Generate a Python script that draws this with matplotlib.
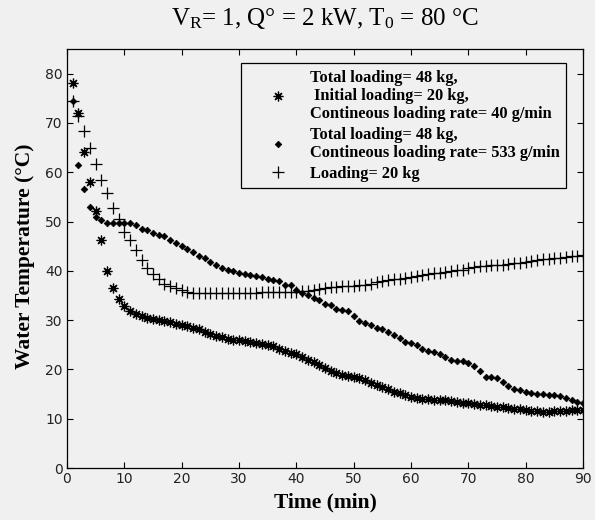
import matplotlib
matplotlib.use("Agg")
import matplotlib.pyplot as plt
from matplotlib.lines import Line2D
import numpy as np

plt.rcParams.update({
    'mathtext.fontset': 'custom',
    'mathtext.rm': 'Liberation Serif',
    'mathtext.it': 'Liberation Serif:italic',
    'mathtext.bf': 'Liberation Serif:bold',
})

BG = "#f0f0f0"

minutes = np.arange(1, 91)

# total 48 kg, initial 20 kg, continuous 40 g/min
temp_40g = [78.0, 72.0, 64.2, 58.0, 52.2, 46.2, 40.0, 36.6, 34.3, 32.8,
            31.9, 31.3, 30.8, 30.5, 30.3, 30.1, 29.9, 29.6, 29.3, 29.1,
            28.8, 28.5, 28.1, 27.6, 27.1, 26.8, 26.5, 26.2, 26.0, 25.9,
            25.7, 25.5, 25.4, 25.2, 25.0, 24.7, 24.2, 23.7, 23.3, 23.1,
            22.6, 22.0, 21.5, 20.9, 20.3, 19.7, 19.2, 18.9, 18.6, 18.4,
            18.2, 17.8, 17.3, 16.9, 16.5, 16.0, 15.5, 15.2, 14.9, 14.4,
            14.1, 13.9, 13.9, 13.8, 13.8, 13.7, 13.5, 13.4, 13.2, 13.1,
            12.9, 12.8, 12.7, 12.5, 12.4, 12.3, 12.2, 12.0, 11.9, 11.8,
            11.6, 11.5, 11.4, 11.4, 11.5, 11.6, 11.6, 11.7, 11.7, 11.7]

# total 48 kg, continuous 533 g/min
temp_533g = [74.4, 61.5, 56.6, 52.9, 50.9, 50.3, 49.7, 49.7, 49.7, 49.7,
             49.6, 49.2, 48.5, 48.2, 47.7, 47.3, 47.0, 46.3, 45.6, 45.1,
             44.5, 43.9, 43.1, 42.5, 41.8, 41.1, 40.6, 40.2, 39.9, 39.6,
             39.4, 39.1, 38.9, 38.7, 38.4, 38.2, 37.9, 37.2, 37.2, 36.2,
             35.6, 35.0, 34.4, 34.1, 33.2, 33.0, 32.2, 32.0, 31.8, 30.9,
             29.8, 29.5, 29.1, 28.3, 28.1, 27.5, 26.9, 26.3, 25.6, 25.4,
             24.9, 24.2, 23.7, 23.5, 23.2, 22.5, 21.9, 21.7, 21.7, 21.4,
             20.6, 19.6, 18.5, 18.4, 18.2, 17.5, 16.7, 16.0, 15.9, 15.4,
             15.3, 15.1, 15.0, 14.9, 14.9, 14.6, 14.1, 13.8, 13.4, 13.1]

# batch loading 20 kg
temp_20kg = [74.4, 71.5, 68.3, 65.0, 61.6, 58.5, 55.8, 52.8, 50.6, 47.8,
             46.2, 44.3, 42.2, 40.6, 39.4, 38.3, 37.4, 37.0, 36.5, 36.1,
             35.8, 35.6, 35.5, 35.4, 35.4, 35.4, 35.4, 35.5, 35.5, 35.5,
             35.6, 35.6, 35.6, 35.7, 35.7, 35.7, 35.7, 35.7, 35.8, 35.8,
             35.9, 36.0, 36.2, 36.4, 36.6, 36.7, 36.8, 36.9, 37.0, 37.0,
             37.1, 37.2, 37.4, 37.7, 37.9, 38.1, 38.3, 38.4, 38.6, 38.8,
             39.0, 39.2, 39.4, 39.5, 39.6, 39.8, 40.0, 40.1, 40.2, 40.5,
             40.7, 40.9, 41.0, 41.1, 41.1, 41.2, 41.4, 41.5, 41.6, 41.8,
             42.0, 42.2, 42.3, 42.4, 42.5, 42.6, 42.8, 43.0, 43.1, 43.2]

labels = ["Total loading= 48 kg,\n Initial loading= 20 kg,\nContineous loading rate= 40 g/min",
          "Total loading= 48 kg,\nContineous loading rate= 533 g/min",
          "Loading= 20 kg"]

yticks = [0, 10, 20, 30, 40, 50, 60, 70, 80]
xticks = [0, 10, 20, 30, 40, 50, 60, 70, 80, 90]

ASTER = (8, 2, 0)

fig = plt.figure(figsize=(5.95, 5.2), dpi=100, facecolor=BG)
ax = fig.add_axes([0.1126, 0.1, 0.8672, 0.8058], facecolor=BG)

ax.plot(minutes, temp_40g, linestyle="none", marker=ASTER, ms=7, mew=0.9, color="k")
ax.plot(minutes, temp_533g, linestyle="none", marker="D", ms=3.4, mew=0.5, color="k")
ax.plot(minutes, temp_20kg, linestyle="none", marker="+", ms=8.5, mew=0.9, color="k")

ax.set_xlim(0, 90)
ax.set_ylim(0, 85)
ax.set_xticks(xticks)
ax.set_yticks(yticks)
ax.tick_params(direction="in", length=4, width=0.8, top=True, right=True,
               labelsize=10, labelcolor="#222222", pad=3)
for sp in ax.spines.values():
    sp.set_linewidth(0.9)

serif_b = dict(family="Liberation Serif", weight="bold")
fig.text(325 / 595, 1 - 507 / 520, "Time (min)", ha="center", va="baseline",
         fontsize=15.5, **serif_b)
fig.text(25 / 595, 1 - 256 / 520, "Water Temperature (°C)", ha="center", va="center",
         rotation=90, fontsize=15.5, **serif_b)
fig.text(325 / 595, 1 - 25 / 520,
         r"V$_\mathrm{R}$= 1, Q° = 2 kW, T$_\mathrm{0}$ = 80 °C",
         ha="center", va="baseline", fontsize=18, family="Liberation Serif")

handles = [Line2D([], [], linestyle="none", marker=ASTER, ms=7, mew=0.9, color="k"),
           Line2D([], [], linestyle="none", marker="D", ms=3.4, mew=0.5, color="k"),
           Line2D([], [], linestyle="none", marker="+", ms=8.5, mew=0.9, color="k")]
leg = ax.legend(handles, labels, loc="upper right",
                bbox_to_anchor=(566 / 595, 1 - 63 / 520), bbox_transform=fig.transFigure,
                borderaxespad=0, prop=dict(family="Liberation Serif", weight="bold", size=11.8),
                fancybox=False, framealpha=1, facecolor=BG, edgecolor="k",
                handlelength=3.7, handletextpad=0.1, borderpad=0.4, labelspacing=0.28)
leg.get_frame().set_linewidth(0.9)

fig.savefig("out.png", dpi=100, facecolor=BG)
